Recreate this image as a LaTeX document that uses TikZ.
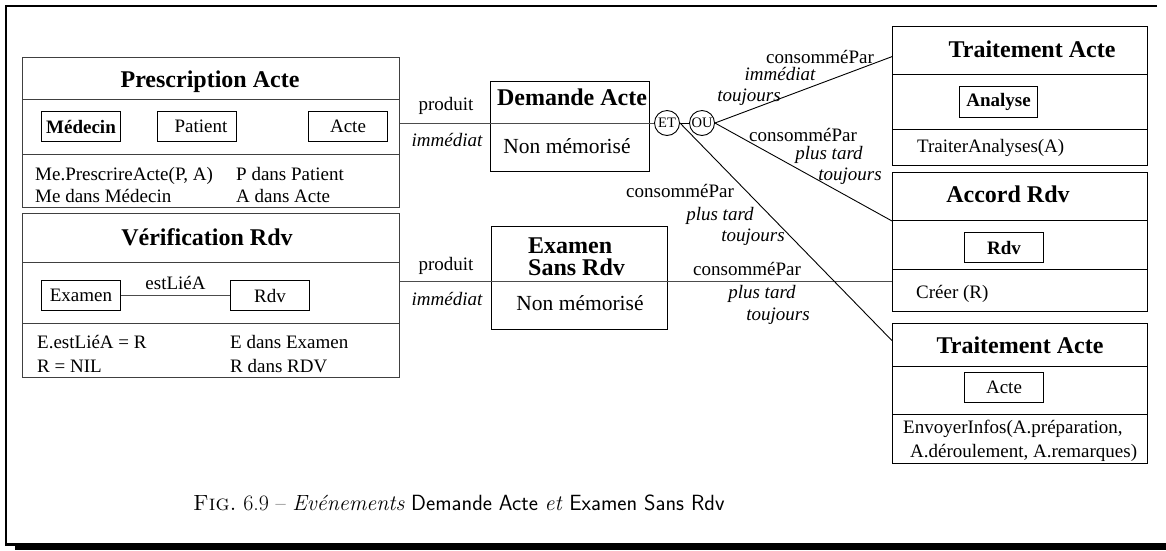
\documentclass[tikz,border=0pt]{standalone}
\usepackage{fontspec}
\newfontfamily\tnr{Liberation Serif}
\usetikzlibrary{calc}

\tikzset{
  row/.style={draw=black!75, line width=1pt, inner sep=0pt, anchor=north west},
  cls/.style={draw=black, line width=1pt, inner sep=0pt, anchor=north west,
    minimum width=79pt, minimum height=30pt, font=\tnr\fontsize{19}{23}\selectfont},
  clsb/.style={cls, font=\tnr\bfseries\fontsize{19}{23}\selectfont},
  ttl/.style={inner sep=0pt, anchor=base, font=\tnr\bfseries\fontsize{24}{25}\selectfont},
  txt/.style={inner sep=0pt, anchor=base west, font=\tnr\fontsize{19}{23}\selectfont},
  lbl/.style={inner sep=0pt, anchor=base, font=\tnr\fontsize{19}{23}\selectfont},
  ilbl/.style={lbl, font=\tnr\itshape\fontsize{19}{23}\selectfont},
  nm/.style={inner sep=0pt, anchor=base, font=\tnr\fontsize{21.5}{25}\selectfont},
  gate/.style={draw=black, line width=0.9pt, circle, minimum size=25pt, inner sep=0pt,
    font=\tnr\fontsize{14.5}{15}\selectfont},
  link/.style={draw=black, line width=0.9pt},
}

\begin{document}
\begin{tikzpicture}[x=1pt,y=-1pt]
\useasboundingbox (0,0) rectangle (1166,550);

% page frame and its shadow
\fill[black] (15,545) rectangle (1166,550);
\draw[line width=2.4pt] (1157,6) -- (6,6) -- (6,544.5) -- (1166,544.5);

% Prescription Acte
\node[row, minimum width=377pt, minimum height=42pt] (pat) at (22,57) {};
\node[row, minimum width=377pt, minimum height=55pt] (pam) at (22,99) {};
\node[row, minimum width=377pt, minimum height=53pt] (pab) at (22,154) {};
\node[ttl] (patx) at (210,87) {Prescription Acte};
\node[clsb] (med) at (41,111) {Médecin};
\node[cls] (pat2) at (157,111) {\hspace{8pt}Patient};
\node[cls] (act1) at (308,111) {Acte};
\node[txt] (pa1) at (35,180) {Me.PrescrireActe(P, A)};
\node[txt] (pa2) at (35,202) {Me dans Médecin};
\node[txt] (pa3) at (236,180) {P dans Patient};
\node[txt] (pa4) at (236,202) {A dans Acte};

% Vérification Rdv
\node[row, minimum width=377pt, minimum height=49pt] (vrt) at (22,213) {};
\node[row, minimum width=377pt, minimum height=61pt] (vrm) at (22,262) {};
\node[row, minimum width=377pt, minimum height=54pt] (vrb) at (22,323) {};
\node[ttl] (vrtx) at (207,245) {Vérification Rdv};
\node[cls] (exa) at (41,280) {Examen};
\node[cls] (rdv1) at (230,280) {Rdv};
\draw[link, draw=black!70] (exa.east) -- node[lbl, anchor=base, yshift=6.5pt] (estl) {estLiéA} (rdv1.west);
\node[txt] (vr1) at (37,348) {E.estLiéA = R};
\node[txt] (vr2) at (37,372) {R = NIL};
\node[txt] (vr3) at (230,348) {E dans Examen};
\node[txt] (vr4) at (230,372) {R dans RDV};

% Demande Acte
\node[row, draw=black, minimum width=159pt, minimum height=42pt] (dat) at (490,81) {};
\node[row, draw=black, minimum width=159pt, minimum height=48pt] (dab) at (490,123) {};
\node[ttl] (datx) at (572,105) {Demande Acte};
\node[nm] (dabx) at (567,153) {Non mémorisé};

% Examen Sans Rdv
\node[row, draw=black, minimum width=176pt, minimum height=55pt] (est) at (491,226) {};
\node[row, draw=black, minimum width=176pt, minimum height=48pt] (esb) at (491,281) {};
\node[ttl, anchor=base west] (estx1) at (528,253) {Examen};
\node[ttl, anchor=base west] (estx2) at (528,275) {Sans Rdv};
\node[nm] (esbx) at (580,310) {Non mémorisé};

% ET / OU gates
\node[gate] (et) at (667,123) {ET};
\node[gate] (ou) at (702,123) {OU};

% Traitement Acte (analyses)
\node[row, draw=black, minimum width=255pt, minimum height=48pt] (tat) at (892,26) {};
\node[row, draw=black, minimum width=255pt, minimum height=55pt] (tam) at (892,74) {};
\node[row, draw=black, minimum width=255pt, minimum height=36pt] (tab) at (892,129) {};
\node[ttl] (tatx) at (1032,57) {Traitement Acte};
\node[clsb, minimum width=78pt, minimum height=31pt] (ana) at (959,86) {Analyse};
\node[txt] (tabx) at (917,152) {TraiterAnalyses(A)};

% Accord Rdv
\node[row, draw=black, minimum width=255pt, minimum height=48pt] (art) at (892,172) {};
\node[row, draw=black, minimum width=255pt, minimum height=49pt] (arm) at (892,220) {};
\node[row, draw=black, minimum width=255pt, minimum height=42pt] (arb) at (892,269) {};
\node[ttl] (artx) at (1008,202) {Accord Rdv};
\node[clsb] (rdv2) at (964,232) {Rdv};
\node[txt] (arbx) at (916,298) {Créer (R)};

% Traitement Acte (informations)
\node[row, draw=black, minimum width=255pt, minimum height=43pt] (tct) at (892,323) {};
\node[row, draw=black, minimum width=255pt, minimum height=48pt] (tcm) at (892,366) {};
\node[row, draw=black, minimum width=255pt, minimum height=49pt] (tcb) at (892,414) {};
\node[ttl] (tctx) at (1020,353) {Traitement Acte};
\node[cls] (act2) at (964,372) {Acte};
\node[txt] (tcb1) at (903,433) {EnvoyerInfos(A.préparation,};
\node[txt] (tcb2) at (910,457) {A.déroulement, A.remarques)};

% event flows
\draw[link, draw=black!70] (pam.east |- dab.north) -- (et.west);
\draw[link, draw=black!70] (vrm.east |- esb.north) -- (esb.north -| arb.west);
\draw[link] (et.east) -- (ou.west);
\draw[link] (ou.east) -- ($(tat.north west)!0.625!(tat.south west)$);
\draw[link] (ou.east) -- (art.south west);
\draw[link] (et.east) -- ($(tct.north west)!0.4!(tct.south west)$);

% flow labels
\node[lbl] (p1) at (446,110) {produit};
\node[ilbl] (i1) at (447,146) {immédiat};
\node[lbl] (p2) at (446,270) {produit};
\node[ilbl] (i2) at (447,305) {immédiat};

\node[lbl] (c1) at (820,63) {consomméPar};
\node[ilbl] (c1b) at (780,80) {immédiat};
\node[ilbl] (c1c) at (749,101) {toujours};

\node[lbl] (c2) at (803,141) {consomméPar};
\node[ilbl] (c2b) at (829,159) {plus tard};
\node[ilbl] (c2c) at (850,180) {toujours};

\node[lbl] (c3) at (680,197) {consomméPar};
\node[ilbl] (c3b) at (720,220) {plus tard};
\node[ilbl] (c3c) at (753,241) {toujours};

\node[lbl] (c4) at (747,275) {consomméPar};
\node[ilbl] (c4b) at (762,298) {plus tard};
\node[ilbl] (c4c) at (778,320) {toujours};

% caption
\node[inner sep=0pt, anchor=base west, font=\fontsize{22}{26}\selectfont] (cap) at (193,510)
  {\textsc{Fig.}~6.9 -- \textit{Evénements} \textsf{Demande Acte} \textit{et} \textsf{Examen Sans Rdv}};
\end{tikzpicture}
\end{document}
